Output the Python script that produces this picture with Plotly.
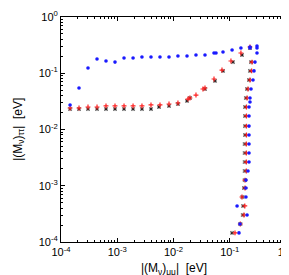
import plotly.graph_objects as go

# Blue series (filled circles)
blue_x = [1.45e-4, 2.09e-4, 3.02e-4, 4.37e-4, 6.31e-4, 9.12e-4, 1.32e-3, 1.91e-3, 2.75e-3, 3.98e-3,
          5.75e-3, 8.32e-3, 1.20e-2, 1.74e-2, 2.51e-2, 3.63e-2, 5.25e-2, 5.70e-2, 7.59e-2, 0.110,
          0.158, 0.229, 0.229, 0.305, 0.305, 0.305,
          0.281, 0.270, 0.259, 0.239, 0.229, 0.229, 0.220, 0.220, 0.220, 0.220, 0.220, 0.220, 0.220,
          0.211, 0.194, 0.194, 0.194, 0.135, 0.203, 0.152, 0.146]
blue_y = [0.0273, 0.0547, 0.124, 0.179, 0.165, 0.158, 0.187, 0.187, 0.194, 0.194,
          0.194, 0.194, 0.203, 0.203, 0.211, 0.211, 0.229, 0.229, 0.239, 0.259,
          0.281, 0.293, 0.281, 0.305, 0.281, 0.229,
          0.158, 0.110, 0.0759, 0.0525, 0.0363, 0.0308, 0.0251, 0.0174, 0.0115, 0.00798, 0.00552,
          0.00382, 0.00264, 0.00183, 0.00126, 0.000912, 0.000631, 0.000437, 0.000302, 0.000209, 0.000145]

# Red series (plus markers)
red_x = [1.45e-4, 2.09e-4, 3.02e-4, 4.37e-4, 6.31e-4, 9.12e-4, 1.32e-3, 1.91e-3, 2.75e-3, 3.98e-3,
         5.75e-3, 8.32e-3, 1.20e-2, 1.81e-2, 1.96e-2, 2.51e-2, 3.34e-2, 3.63e-2, 5.25e-2, 7.28e-2,
         0.105, 0.158, 0.229,
         0.249, 0.245, 0.229, 0.211, 0.203, 0.198, 0.198, 0.198, 0.198, 0.197, 0.197, 0.197, 0.197,
         0.187, 0.187, 0.165, 0.185, 0.179, 0.154, 0.124]
red_y = [0.0241, 0.0241, 0.0251, 0.0251, 0.0262, 0.0262, 0.0262, 0.0262, 0.0262, 0.0273,
         0.0273, 0.0284, 0.0296, 0.0348, 0.0363, 0.0410, 0.0525, 0.0547, 0.0791, 0.114,
         0.165, 0.229, 0.293,
         0.158, 0.110, 0.0759, 0.0525, 0.0363, 0.0251, 0.0174, 0.0115, 0.00798, 0.00552, 0.00382,
         0.00264, 0.00183, 0.00126, 0.000912, 0.000631, 0.000437, 0.000302, 0.000209, 0.000145]

# Grey/black series (boxed crosses)
grey_x = [1.45e-4, 2.09e-4, 3.02e-4, 4.37e-4, 6.31e-4, 9.12e-4, 1.32e-3, 1.91e-3, 2.75e-3, 3.98e-3,
          5.52e-3, 8.32e-3, 1.20e-2, 1.74e-2, 1.96e-2, 3.63e-2, 5.47e-2, 7.59e-2, 0.114, 0.165, 0.229,
          0.239, 0.229, 0.220, 0.203, 0.194, 0.187, 0.187, 0.187, 0.187, 0.185, 0.185, 0.185, 0.185,
          0.185, 0.179, 0.168, 0.173, 0.171, 0.154, 0.110]
grey_y = [0.0231, 0.0231, 0.0231, 0.0231, 0.0231, 0.0231, 0.0231, 0.0231, 0.0231, 0.0231,
          0.0251, 0.0262, 0.0284, 0.0322, 0.0363, 0.0525, 0.0731, 0.110, 0.158, 0.211, 0.281,
          0.158, 0.110, 0.0759, 0.0525, 0.0363, 0.0251, 0.0174, 0.0115, 0.00798, 0.00552, 0.00382,
          0.00264, 0.00183, 0.00126, 0.000912, 0.000631, 0.000437, 0.000302, 0.000209, 0.000145]

tick_vals = [1e-4, 1e-3, 1e-2, 1e-1, 1]
tick_text = ["10<sup>-4</sup>", "10<sup>-3</sup>", "10<sup>-2</sup>", "10<sup>-1</sup>", "10<sup>0</sup>"]

x_title = "|(M<sub>ν</sub>)<sub>μμ</sub>|  [eV]"
y_title = "|(M<sub>ν</sub>)<sub>ττ</sub>|  [eV]"

FONT = "Liberation Sans, Arial, sans-serif"

fig = go.Figure()
fig.add_trace(go.Scatter(x=grey_x, y=grey_y, mode="markers",
                         marker=dict(symbol="square", size=4, color="#a8a8a8", line=dict(width=0))))
fig.add_trace(go.Scatter(x=grey_x, y=grey_y, mode="markers",
                         marker=dict(symbol="x-thin", size=2.5, line=dict(width=1, color="#222222"))))
fig.add_trace(go.Scatter(x=red_x, y=red_y, mode="markers",
                         marker=dict(symbol="cross-thin", size=3.5, line=dict(width=1.2, color="#ff2020"))))
fig.add_trace(go.Scatter(x=blue_x, y=blue_y, mode="markers",
                         marker=dict(symbol="circle", size=3.6, color="#1a1aff", line=dict(width=0))))

axis_common = dict(
    type="log", showgrid=False, zeroline=False, showline=True, linecolor="black", linewidth=1,
    mirror="allticks", ticks="inside", ticklen=4, tickcolor="black", automargin=False,
    tickvals=tick_vals, ticktext=tick_text,
    minor=dict(ticks="inside", ticklen=2, tickcolor="black", showgrid=False, dtick="D1"),
    tickfont=dict(family=FONT, size=11, color="black"),
)
fig.update_xaxes(range=[-4, 0], **axis_common)
fig.update_yaxes(range=[-4, 0], **axis_common)

fig.add_annotation(text=x_title, xref="paper", yref="paper", x=0.5, y=-0.122,
                   yanchor="middle", showarrow=False,
                   font=dict(family=FONT, size=12, color="black"))
fig.add_annotation(text=y_title, xref="paper", yref="paper", x=-0.19, y=0.5,
                   xanchor="center", yanchor="middle", textangle=-90, showarrow=False,
                   font=dict(family=FONT, size=12, color="black"))

fig.update_layout(width=289, height=275, margin=dict(l=53, r=11, t=9, b=41, autoexpand=False),
                  showlegend=False, plot_bgcolor="white", paper_bgcolor="white")
fig.write_html("out.html")
